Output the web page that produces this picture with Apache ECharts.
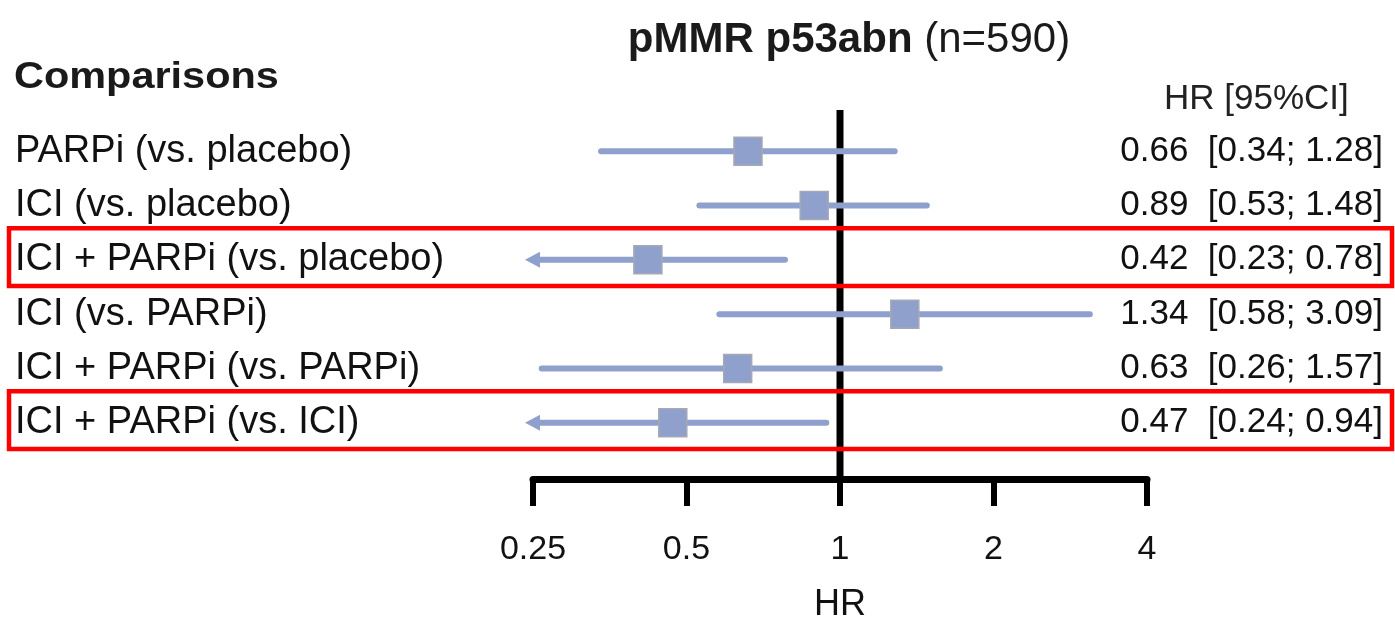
<!DOCTYPE html>
<html><head><meta charset="utf-8">
<script src="https://cdn.jsdelivr.net/npm/echarts@6/dist/echarts.min.js"></script>
<style>html,body{margin:0;padding:0;background:#fff}#c{width:1395px;height:619px}</style>
</head><body><div id="c"></div>
<script>
// ---- data ----
const comparisons = [
  'PARPi (vs. placebo)',
  'ICI (vs. placebo)',
  'ICI + PARPi (vs. placebo)',
  'ICI (vs. PARPi)',
  'ICI + PARPi (vs. PARPi)',
  'ICI + PARPi (vs. ICI)'
];
const hr     = [0.66, 0.89, 0.42, 1.34, 0.63, 0.47];
const ciLow  = [0.34, 0.53, 0.23, 0.58, 0.26, 0.24];
const ciHigh = [1.28, 1.48, 0.78, 3.09, 1.57, 0.94];
const xTicks = [0.25, 0.5, 1, 2, 4];
const highlightRows = [2, 5];
const titleMain = 'pMMR p53abn';
const titleSub = '(n=590)';
const leftHeader = 'Comparisons';
const rightHeader = 'HR [95%CI]';
const axisName = 'HR';

// ---- derived ----
const FONT = '"Liberation Sans", Arial, Helvetica, sans-serif';
const xMin = xTicks[0], xMax = xTicks[xTicks.length - 1];
const valueLabels = hr.map((h, i) => h.toFixed(2) + '  [' + ciLow[i].toFixed(2) + '; ' + ciHigh[i].toFixed(2) + ']');
const ciData = hr.map((h, i) => [i, h, ciLow[i], ciHigh[i]]);
const BLUE = '#8EA0CB';
const AXIS_OFFSET = 29;

const chart = echarts.init(document.getElementById('c'), null, {renderer: 'canvas'});
chart.setOption({
  animation: false,
  backgroundColor: '#fff',
  textStyle: {fontFamily: FONT},
  title: [
    {text: '{b|' + titleMain + '}{n| ' + titleSub + '}', left: 844, top: 14, textAlign: 'center',
     textStyle: {rich: {
       b: {fontSize: 42, fontWeight: 'bold', color: '#1a1a1a', fontFamily: FONT},
       n: {fontSize: 42, fontWeight: 'normal', color: '#1a1a1a', fontFamily: FONT}}}},
    {text: rightHeader, left: 1159, top: 77, textStyle: {fontSize: 35, fontWeight: 'normal', color: '#222', fontFamily: FONT}}
  ],
  graphic: [
    {type: 'text', x: 14, y: 78, scaleX: 1.12, silent: true,
     style: {text: leftHeader, fontSize: 37, fontWeight: 'bold', fill: '#1a1a1a', fontFamily: FONT,
             align: 'left', verticalAlign: 'middle'}}
  ],
  grid: {left: 533, right: 248, top: 124, bottom: 169, outerBoundsMode: 'none', containLabel: false},
  xAxis: {
    type: 'log', logBase: 2, min: xMin, max: xMax, interval: 1,
    offset: AXIS_OFFSET,
    axisLine: {show: true, lineStyle: {color: '#000', width: 7}},
    axisTick: {show: true, length: 27, lineStyle: {color: '#000', width: 6}},
    axisLabel: {fontSize: 34, color: '#111', margin: 54, fontFamily: FONT,
      formatter: v => String(+(+v).toPrecision(3))},
    splitLine: {show: false},
    name: axisName, nameLocation: 'middle', nameGap: 108,
    nameTextStyle: {fontSize: 36, color: '#111', fontFamily: FONT}
  },
  yAxis: [
    {type: 'category', inverse: true, data: comparisons,
     axisLine: {show: false}, axisTick: {show: false}, splitLine: {show: false},
     axisLabel: {align: 'left', margin: 518, fontSize: 38, color: '#111', fontFamily: FONT}},
    {type: 'category', inverse: true, position: 'right', data: valueLabels,
     axisLine: {show: false}, axisTick: {show: false}, splitLine: {show: false},
     axisLabel: {align: 'right', margin: 236, fontSize: 35, color: '#111', fontFamily: FONT}}
  ],
  series: [
    {
      type: 'custom', name: 'ref', z: 1, silent: true,
      data: [[1, 0]],
      encode: {x: 0, y: 1},
      renderItem: function (params, api) {
        const cs = params.coordSys;
        const x = api.coord([api.value(0), 0])[0];
        return {type: 'line', shape: {x1: x, y1: cs.y - 14, x2: x, y2: cs.y + cs.height + AXIS_OFFSET},
                style: {stroke: '#000', lineWidth: 7}};
      }
    },
    {
      type: 'custom', name: 'HR', z: 2, silent: true,
      data: ciData,
      encode: {x: [1, 2, 3], y: 0},
      renderItem: function (params, api) {
        const idx = api.value(0);
        const h = api.value(1), lo = api.value(2), hi = api.value(3);
        const clipped = lo < xMin;
        const pLo = api.coord([clipped ? xMin : lo, idx]);
        const pHi = api.coord([hi, idx]);
        const pC = api.coord([h, idx]);
        const y = pC[1];
        const children = [];
        const x0 = clipped ? pLo[0] + 4 : pLo[0];
        children.push({type: 'line', shape: {x1: x0, y1: y, x2: pHi[0], y2: y},
          style: {stroke: BLUE, lineWidth: 6, lineCap: 'round'}});
        if (clipped) {
          const t = pLo[0] - 8;
          children.push({type: 'polygon', shape: {points: [[t, y], [t + 15, y - 8], [t + 15, y + 8]]},
            style: {fill: BLUE}});
        }
        const s = 28;
        children.push({type: 'rect', shape: {x: pC[0] - s / 2, y: y - s / 2, width: s, height: s},
          style: {fill: BLUE, stroke: '#A6A9B3', lineWidth: 1.5}});
        return {type: 'group', children: children};
      }
    },
    {
      type: 'custom', name: 'highlight', z: 5, silent: true,
      data: highlightRows.map(r => [r]),
      encode: {y: 0},
      renderItem: function (params, api) {
        const band = api.size([0, 1])[1];
        const yc = api.coord([1, api.value(0)])[1];
        return {type: 'rect', shape: {x: 9, y: yc - band * 0.58, width: 1383, height: band * 1.06},
          style: {fill: 'none', stroke: '#FF0000', lineWidth: 4.5}};
      }
    }
  ]
});
</script>
</body></html>
